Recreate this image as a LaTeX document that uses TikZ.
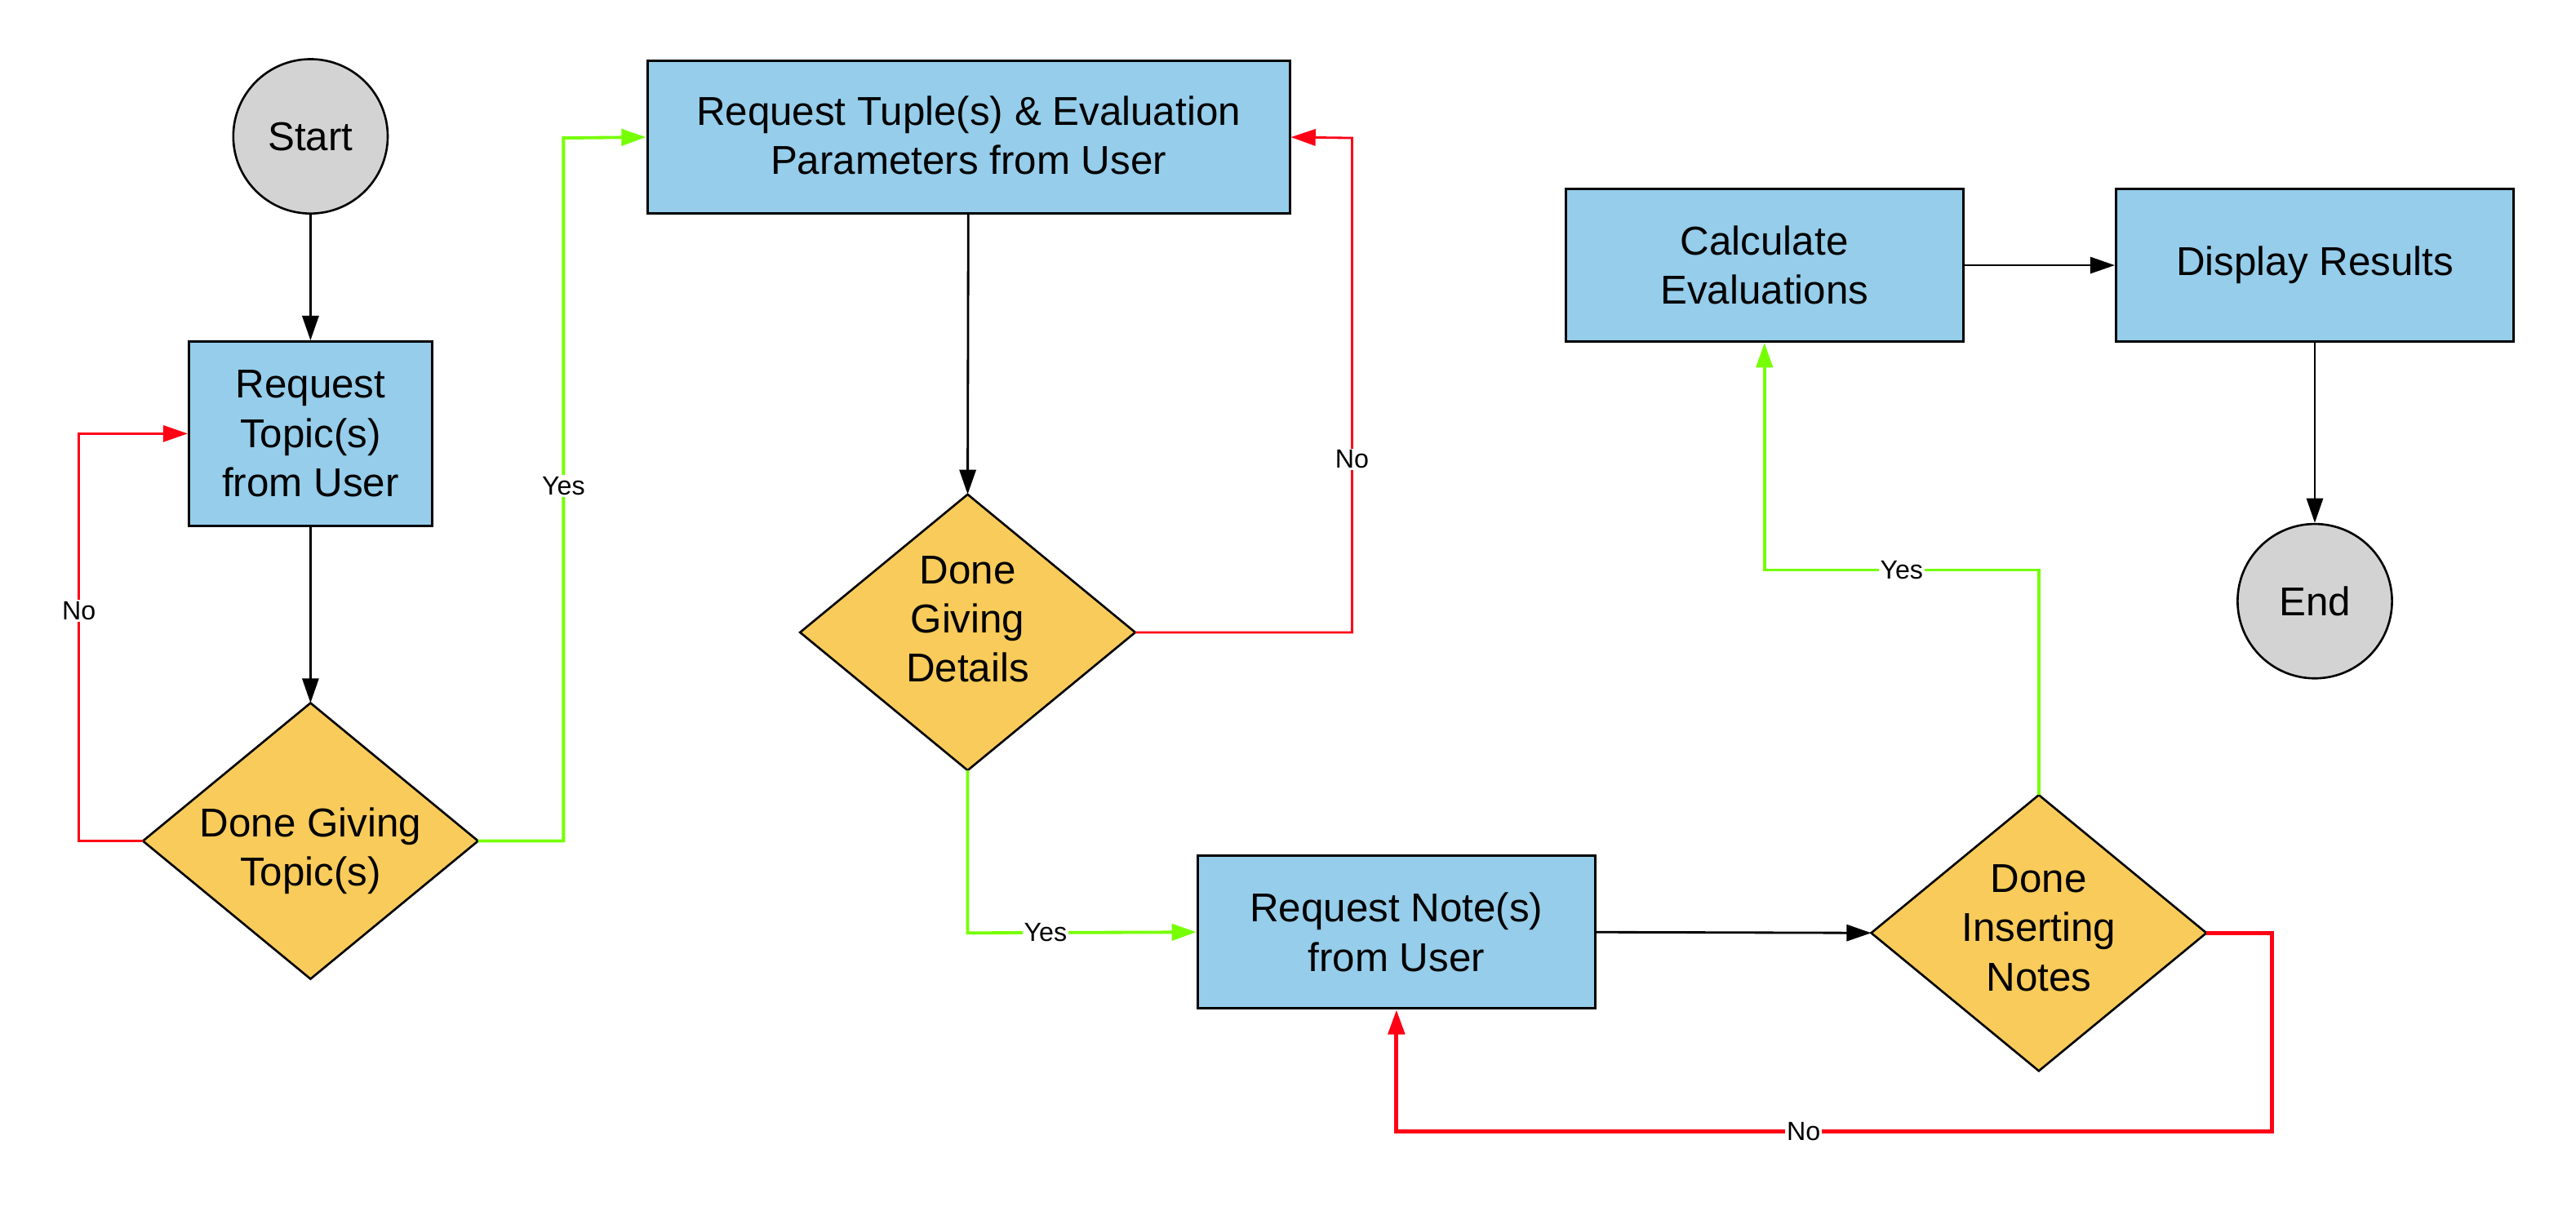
\documentclass[tikz,border=0pt]{standalone}
\usepackage{fontspec}
\setmainfont{Liberation Sans}
\usetikzlibrary{arrows.meta,shapes.geometric}
\definecolor{boxblue}{HTML}{95CDEA}
\definecolor{decor}{HTML}{F9CB5A}
\definecolor{termgray}{HTML}{D3D3D3}
\definecolor{nored}{HTML}{FF0015}
\definecolor{yesgreen}{HTML}{76FF03}
\tikzset{
  procbox/.style={draw=black, line width=1.5pt, fill=boxblue, rectangle, align=center,
    font=\fontsize{24.5}{30}\selectfont, inner sep=0pt},
  decbox/.style={draw=black, line width=1.3pt, fill=decor, diamond, align=center,
    font=\fontsize{24.5}{30}\selectfont, inner sep=0pt, outer sep=0pt},
  termbox/.style={draw=black, line width=1.3pt, fill=termgray, circle, minimum size=94pt,
    font=\fontsize{24.5}{30}\selectfont, inner sep=0pt},
  tip/.style={-{Triangle[length=15pt,width=10pt]}},
  flow/.style={draw=black, line width=1.4pt, tip},
  yesflow/.style={draw=yesgreen, line width=1.9pt, tip},
  noflow/.style={draw=nored, line width=1.4pt, tip},
  noflowthick/.style={draw=nored, line width=2.5pt, tip},
  lbl/.style={fill=white, inner sep=1pt, font=\fontsize{16}{18}\selectfont},
  dtext/.style={font=\fontsize{24.5}{30}\selectfont, align=center}
}
\begin{document}
\begin{tikzpicture}[x=1pt,y=-1pt]
\useasboundingbox (0,0) rectangle (1568,737);
% nodes
\node[termbox] (start) at (189,83) {Start};
\node[procbox, minimum width=148pt, minimum height=112pt] (topic) at (189,264) {Request\\Topic(s)\\from User};
\node[decbox, minimum width=204pt, minimum height=168pt] (dtopic) at (189,512) {};
\node[dtext] (dtopictxt) at (189,518) {Done Giving\\Topic(s)};
\node[procbox, minimum width=391pt, minimum height=93pt] (tuple) at (589.5,83.5) {Request Tuple(s) \& Evaluation\\Parameters from User\rule{0pt}{0pt}\vspace{2pt}};
\node[decbox, minimum width=204pt, minimum height=168pt] (ddet) at (589,385) {};
\node[dtext] (ddettxt) at (589,377) {Done\\Giving\\Details};
\node[procbox, minimum width=242pt, minimum height=93pt] (note) at (850,567.5) {Request Note(s)\\from User};
\node[decbox, minimum width=204pt, minimum height=168pt] (dnote) at (1241,568) {};
\node[dtext] (dnotetxt) at (1241,565) {Done\\Inserting\\Notes};
\node[procbox, minimum width=242pt, minimum height=93pt] (calc) at (1074,161.5) {Calculate\\Evaluations};
\node[procbox, minimum width=242pt, minimum height=93pt] (disp) at (1409,161.5) {Display Results};
\node[termbox] (endn) at (1409,366) {End};
% connectors
\draw[flow] (start) -- (topic);
\draw[flow] (topic) -- (dtopic.north);
\draw[noflow] (dtopic.west) -- (48,512) -- node[lbl, pos=0.565] (lno1) {No} (48,264) -- (topic.west);
\draw[yesflow] (dtopic.east) -- (343,512) -- node[lbl, pos=0.505] (lyes1) {Yes} (343,84) -- (tuple.west);
\draw[flow] (tuple) -- (ddet.north);
\draw[noflow] (ddet.east) -- (823,385) -- node[lbl, pos=0.35] (lno2) {No} (823,84) -- (tuple.east);
\draw[yesflow] (ddet.south) -- (589,568) -- node[lbl, pos=0.34] (lyes2) {Yes} (note.west);
\draw[flow] (note.east) -- (dnote.west);
\draw[noflowthick] (dnote.east) -- (1383,568) -- (1383,689) -- node[lbl, pos=0.535] (lno3) {No} (850,689) -- (note.south);
\draw[yesflow] (dnote.north) -- (1241,347) -- node[lbl, pos=0.5] (lyes3) {Yes} (1074,347) -- (calc.south);
\draw[flow] (calc.east) -- (disp.west);
\draw[flow] (disp.south) -- (endn.north);
\end{tikzpicture}
\end{document}
